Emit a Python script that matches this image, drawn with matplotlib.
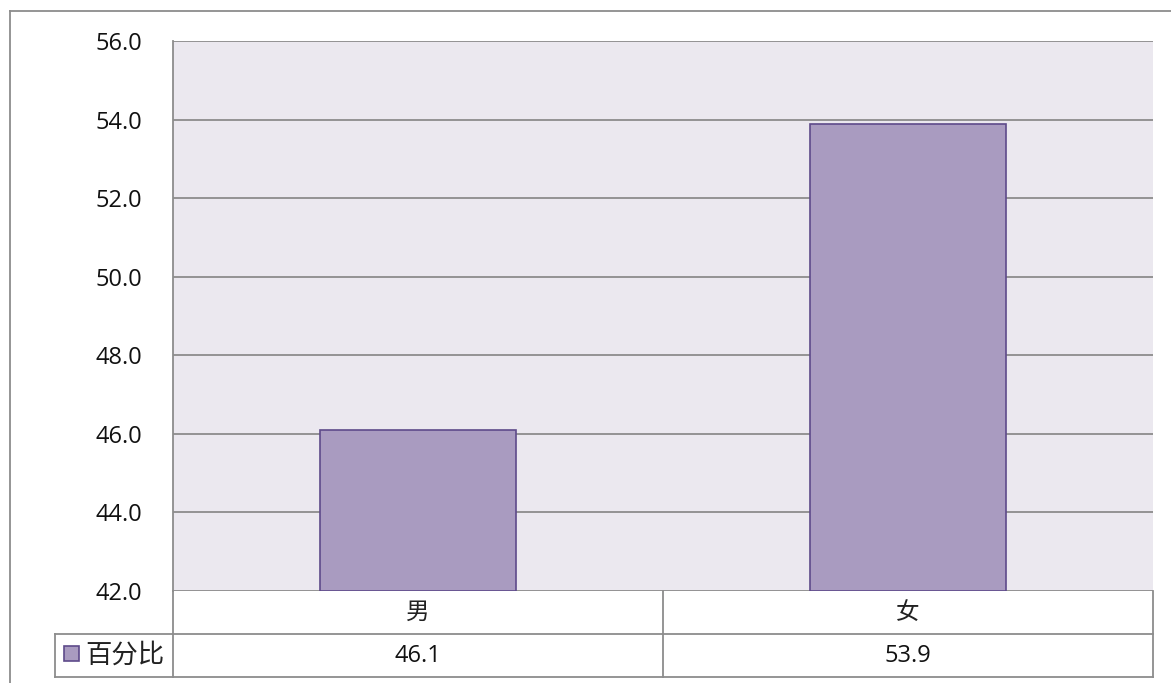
import matplotlib
matplotlib.use("Agg")
import matplotlib.pyplot as plt
from matplotlib.lines import Line2D
from matplotlib.patches import Rectangle

categories = ["男", "女"]
values = [46.1, 53.9]
series_name = "百分比"
yticks = [42.0, 44.0, 46.0, 48.0, 50.0, 52.0, 54.0, 56.0]

plt.rcParams['font.family'] = ['Noto Sans CJK SC', 'DejaVu Sans']

W, H = 1171, 683
fig = plt.figure(figsize=(W / 100, H / 100), dpi=100)

def fx(px):
    return px / W

def fy(py):
    return 1 - py / H

# plot area
L, R, T, B = 173, 1153, 41, 591
ax = fig.add_axes([fx(L), fy(B), fx(R) - fx(L), fy(T) - fy(B)])
ax.set_facecolor("#EBE8EF")
ax.set_xlim(-0.5, len(categories) - 0.5)
ax.set_ylim(yticks[0], yticks[-1])
ax.set_yticks(yticks)
ax.set_yticklabels([f"{v:.1f}" for v in yticks], fontsize=17, family=['Open Sans', 'DejaVu Sans'],
                   color="#111111")
ax.tick_params(axis='y', length=0, pad=22)
ax.set_xticks([])
for y in yticks:
    ax.axhline(y, color="#8C8C8C", lw=1.3, zorder=1)
for s in ['top', 'right', 'bottom']:
    ax.spines[s].set_visible(False)
ax.spines['left'].set_color("#8C8C8C")
ax.spines['left'].set_linewidth(1.3)

ax.bar(range(len(categories)), [v - yticks[0] for v in values], bottom=yticks[0],
       width=0.4, color="#A99BC0", edgecolor="#5E4A8A", linewidth=1.2, zorder=3)

# outer border
gc = "#8C8C8C"
fig.add_artist(Line2D([fx(10), fx(10)], [fy(11), 0], transform=fig.transFigure, color=gc, lw=1.3))
fig.add_artist(Line2D([fx(10), 1], [fy(11), fy(11)], transform=fig.transFigure, color=gc, lw=1.3))

# data table
r1, r2, r3 = B, 634, 677
hdr_left = 55
mid = (L + R) / 2
def hline(x0, x1, y):
    fig.add_artist(Line2D([fx(x0), fx(x1)], [fy(y), fy(y)], transform=fig.transFigure, color=gc, lw=1.3))
def vline(x, y0, y1):
    fig.add_artist(Line2D([fx(x), fx(x)], [fy(y0), fy(y1)], transform=fig.transFigure, color=gc, lw=1.3))

hline(hdr_left, R, r2)
hline(hdr_left, R, r3)
vline(L, r1, r3)
vline(mid, r1, r3)
vline(R, r1, r3)
vline(hdr_left, r2, r3)

col_centers = [(L + mid) / 2, (mid + R) / 2]
for c, cat, v in zip(col_centers, categories, values):
    fig.text(fx(c), fy((r1 + r2) / 2), cat, ha='center', va='center', fontsize=17,
             family=['Noto Sans CJK SC'], fontweight='light', color="#222222")
    fig.text(fx(c), fy((r2 + r3) / 2), f"{v:.1f}", ha='center', va='center', fontsize=17,
             family=['Open Sans', 'DejaVu Sans'], color="#111111")

# legend key in table header
fig.add_artist(Rectangle((fx(64), fy(661)), fx(15), fy(646) - fy(661), transform=fig.transFigure,
                         facecolor="#A99BC0", edgecolor="#5E4A8A", lw=1.2))
fig.text(fx(85), fy((r2 + r3) / 2), series_name, ha='left', va='center', fontsize=19,
         family=['Noto Sans CJK SC'], fontweight='light', color="#222222")

fig.savefig("out.png", dpi=100)
